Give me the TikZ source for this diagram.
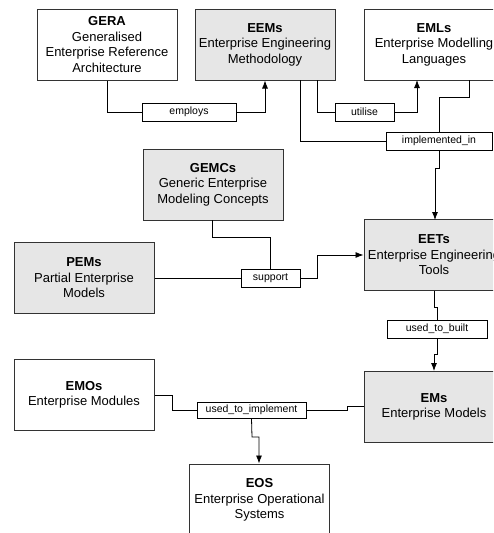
\documentclass[tikz,border=0pt]{standalone}
\usepackage{fontspec}
\setmainfont{Liberation Sans}
\usetikzlibrary{arrows.meta}
\definecolor{boxgray}{HTML}{E6E6E6}
\definecolor{edge}{HTML}{333333}
\begin{document}
\begin{tikzpicture}[x=1pt,y=-1pt,
  box/.style={draw=edge,line width=1pt,minimum width=140pt,minimum height=71pt,inner sep=0pt,align=center,font=\fontsize{13}{15.5}\selectfont},
  gbox/.style={box,fill=boxgray},
  wbox/.style={box,fill=white},
  lab/.style={draw=black,line width=0.8pt,fill=white,minimum height=18pt,inner sep=0pt,font=\fontsize{10.5}{12}\selectfont},
  conn/.style={line width=0.8pt,draw=black},
  arr/.style={conn,-{Latex[length=8pt,width=6pt]}}]
\useasboundingbox (0,0) rectangle (493,533);
\begin{scope}
\clip (0,0) rectangle (493,533);
% boxes
\node[wbox] (GERA) at (107,44.5) {\textbf{GERA}\\Generalised\\Enterprise Reference\\Architecture};
\node[gbox] (EEMs) at (265,44.5) {\textbf{EEMs}\\Enterprise Engineering\\Methodology};
\node[wbox] (EMLs) at (434,44.5) {\textbf{EMLs}\\Enterprise Modelling\\Languages};
\node[gbox] (GEMCs) at (213,184.5) {\textbf{GEMCs}\\Generic Enterprise\\Modeling Concepts};
\node[gbox] (PEMs) at (84,278) {\textbf{PEMs}\\Partial Enterprise\\Models};
\node[gbox] (EETs) at (434,255) {\textbf{EETs}\\Enterprise Engineering\\Tools};
\node[gbox] (EMs) at (434,407) {\textbf{EMs}\\Enterprise Models};
\node[wbox] (EMOs) at (84,395) {\textbf{EMOs}\\Enterprise Modules};
\node[wbox,minimum height=72pt] (EOS) at (259.5,500) {\textbf{EOS}\\Enterprise Operational\\Systems};
% labels
\node[lab,minimum width=94pt] (employs) at (189,112) {employs};
\node[lab,minimum width=59pt] (utilise) at (364.5,112) {utilise};
\node[lab,minimum width=106pt] (impl) at (439,141) {implemented\_in};
\node[lab,minimum width=59pt] (support) at (270.5,278) {support};
\node[lab,minimum width=100pt] (built) at (437,329) {used\_to\_built};
\node[lab,minimum width=109pt,minimum height=16pt] (uti) at (251.5,410) {used\_to\_implement};
% connectors
\coordinate (c1) at (107,112);
\draw[conn] (GERA.south) -- (c1) -- (employs.west);
\draw[arr] (employs.east) -| (EEMs.south);
\coordinate (c2) at (317,80);
\draw[conn] (c2) |- (utilise.west);
\coordinate (c3) at (417,80);
\draw[arr] (utilise.east) -| (c3);
\coordinate (c4) at (300,80);
\draw[conn] (c4) |- (impl.west);
\coordinate (c5) at (469,80);
\coordinate (c6) at (469,97);
\draw[conn] (c5) -- (c6) -| (impl.north);
\coordinate (c7) at (439,168);
\coordinate (c8) at (435,168);
\coordinate (c9) at (435,220);
\draw[arr] (impl.south) -- (c7) -- (c8) -- (c9);
\coordinate (g1) at (212,220);
\coordinate (g2) at (212,237);
\draw[conn] (g1) -- (g2) -| (support.north);
\draw[conn] (PEMs.east) -- (support.west);
\coordinate (s1) at (317,278);
\coordinate (s2) at (317,255);
\draw[arr] (support.east) -- (s1) -- (s2) -- (EETs.west);
\coordinate (e1) at (434,307);
\coordinate (e2) at (437,307);
\draw[conn] (EETs.south) -- (e1) -- (e2) -- (built.north);
\coordinate (b1) at (437,354);
\coordinate (b2) at (434,354);
\draw[arr] (built.south) -- (b1) -- (b2) -- (EMs.north);
\coordinate (m1) at (172,395);
\coordinate (m2) at (172,410);
\draw[conn] (EMOs.east) -- (m1) -- (m2) -- (uti.west);
\coordinate (m3) at (364,406);
\coordinate (m4) at (347,406);
\coordinate (m5) at (347,410);
\draw[conn] (m3) -- (m4) -- (m5) -- (uti.east);
\coordinate (u1) at (252,437);
\coordinate (u2) at (259,437);
\draw[arr] (uti.south) -- (u1) -- (u2) -- (EOS.north -| u2);
\end{scope}
\end{tikzpicture}
\end{document}
